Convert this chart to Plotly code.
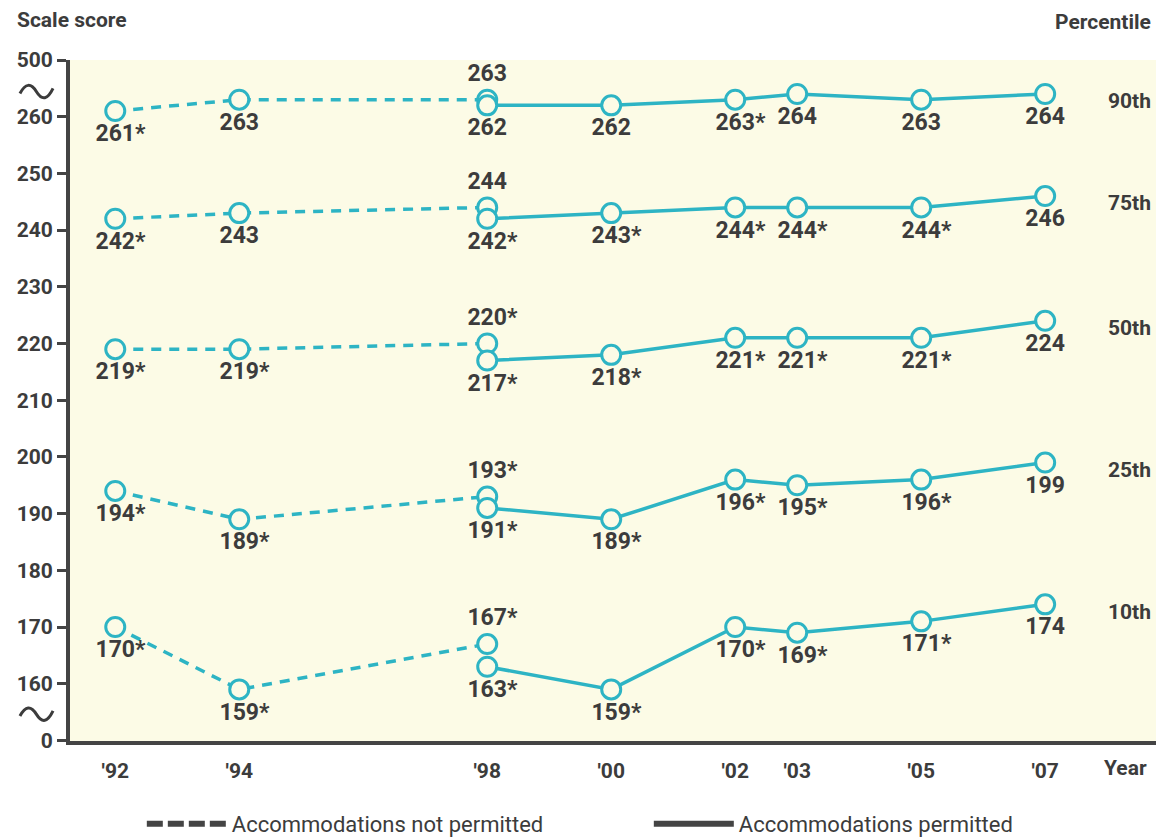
import plotly.graph_objects as go

# ---------------- data ----------------
years_np = [1992, 1994, 1998]                     # accommodations not permitted
years_p = [1998, 2000, 2002, 2003, 2005, 2007]    # accommodations permitted
percentiles = ["90th", "75th", "50th", "25th", "10th"]

p90_np = [261, 263, 263]
p90_p = [262, 262, 263, 264, 263, 264]
p75_np = [242, 243, 244]
p75_p = [242, 243, 244, 244, 244, 246]
p50_np = [219, 219, 220]
p50_p = [217, 218, 221, 221, 221, 224]
p25_np = [194, 189, 193]
p25_p = [191, 189, 196, 195, 196, 199]
p10_np = [170, 159, 167]
p10_p = [163, 159, 170, 169, 171, 174]

# significance flags (* = significantly different from 2007)
p90_np_sig = [1, 0, 0]
p90_p_sig = [0, 0, 1, 0, 0, 0]
p75_np_sig = [1, 0, 0]
p75_p_sig = [1, 1, 1, 1, 1, 0]
p50_np_sig = [1, 1, 1]
p50_p_sig = [1, 1, 1, 1, 1, 0]
p25_np_sig = [1, 1, 1]
p25_p_sig = [1, 1, 1, 1, 1, 0]
p10_np_sig = [1, 1, 1]
p10_p_sig = [1, 1, 1, 1, 1, 0]

year_ticks = [1992, 1994, 1998, 2000, 2002, 2003, 2005, 2007]
year_labels = ["'92", "'94", "'98", "'00", "'02", "'03", "'05", "'07"]
score_tickvals = [150, 160, 170, 180, 190, 200, 210, 220, 230, 240, 250, 260, 270]
score_ticktext = ["0", "160", "170", "180", "190", "200", "210", "220", "230",
                  "240", "250", "260", "500"]

# ---------------- style ----------------
TEAL = "#2db4c4"
BG = "#fcfbe6"
INK = "#3c3c3c"
FONT = "Roboto, Liberation Sans, sans-serif"

def F(size, weight="bold"):
    return dict(family=FONT, size=size, color=INK, weight=weight)

def lab(v, s):
    pad = "<span style='color:rgba(0,0,0,0)'>*</span>" if s else ""
    return f"{pad}{v}{'*' if s else ''}"

fig = go.Figure()

series = [
    (p90_np, p90_np_sig, p90_p, p90_p_sig),
    (p75_np, p75_np_sig, p75_p, p75_p_sig),
    (p50_np, p50_np_sig, p50_p, p50_p_sig),
    (p25_np, p25_np_sig, p25_p, p25_p_sig),
    (p10_np, p10_np_sig, p10_p, p10_p_sig),
]

marker = dict(symbol="circle", size=19, color=BG, line=dict(color=TEAL, width=3))
tfont = F(23)

for np_vals, np_sig, p_vals, p_sig in series:
    fig.add_trace(go.Scatter(
        x=years_np, y=np_vals, mode="lines+markers+text",
        line=dict(color=TEAL, width=3.5, dash="10px,8px"),
        marker=marker,
        text=[lab(v, s) for v, s in zip(np_vals, np_sig)],
        textposition=["bottom center", "bottom center", "top center"],
        textfont=tfont, showlegend=False, cliponaxis=False, hoverinfo="skip"))
    fig.add_trace(go.Scatter(
        x=years_p, y=p_vals, mode="lines+markers+text",
        line=dict(color=TEAL, width=3.5),
        marker=marker,
        text=[lab(v, s) for v, s in zip(p_vals, p_sig)],
        textposition="bottom center",
        textfont=tfont, showlegend=False, cliponaxis=False, hoverinfo="skip"))

# legend entries
fig.add_trace(go.Scatter(x=[None], y=[None], mode="lines",
                         line=dict(color="#444444", width=6, dash="16px,5px"),
                         name="Accommodations not permitted"))
fig.add_trace(go.Scatter(x=[None], y=[None], mode="lines",
                         line=dict(color="#444444", width=6),
                         name="Accommodations permitted"))

annotations = []
# percentile labels at right
for name, (np_vals, _, p_vals, _) in zip(percentiles, series):
    annotations.append(dict(x=0.995, xref="paper", xanchor="right", y=p_vals[-1] - 1.3, yref="y",
                            text=name, showarrow=False, font=F(21)))
annotations += [
    dict(x=-0.0506, xref="paper", xanchor="left", y=1.0587, yref="paper", yanchor="middle",
         text="Scale score", showarrow=False, font=F(21)),
    dict(x=0.995, xref="paper", xanchor="right", y=1.0558, yref="paper", yanchor="middle",
         text="Percentile", showarrow=False, font=F(21)),
    dict(x=0.9697, xref="paper", xanchor="center", y=-0.0396, yref="paper", yanchor="middle",
         text="Year", showarrow=False, font=F(21)),
]

# axis-break squiggles
shapes = []
for yc in [264.4, 154.6]:
    x0, x1 = -0.046, -0.0156
    xm = (x0 + x1) / 2
    path = (f"M {x0},{yc - 0.3} Q {x0 + 0.0075},{yc + 2.4} {xm},{yc} "
            f"T {x1},{yc + 0.6}")
    shapes.append(dict(type="path", xref="paper", yref="y", path=path,
                       line=dict(color=INK, width=3)))

fig.update_layout(
    width=1156, height=831,
    margin=dict(l=62, r=6, t=52, b=98, autoexpand=False),
    paper_bgcolor="white", plot_bgcolor=BG,
    font=dict(family=FONT, color=INK),
    showlegend=True,
    legend=dict(orientation="h", x=0.532, xanchor="center", y=-0.091, yanchor="top",
                font=F(22, "normal"),
                itemwidth=80, entrywidth=412),
    annotations=annotations,
    shapes=shapes,
)
fig.update_xaxes(range=[1991.27, 2008.82], tickvals=year_ticks, ticktext=year_labels,
                 showgrid=False, zeroline=False, showline=True, linecolor="#444444",
                 linewidth=4, ticks="", ticklabelstandoff=8, tickfont=F(21))
fig.update_yaxes(range=[149.9, 270], tickvals=score_tickvals, ticktext=score_ticktext,
                 showgrid=False, zeroline=False, showline=True, linecolor="#444444",
                 linewidth=4, ticks="outside", ticklen=9, tickwidth=3, tickcolor="#444444",
                 tickfont=F(21))

fig.write_html("out.html")
